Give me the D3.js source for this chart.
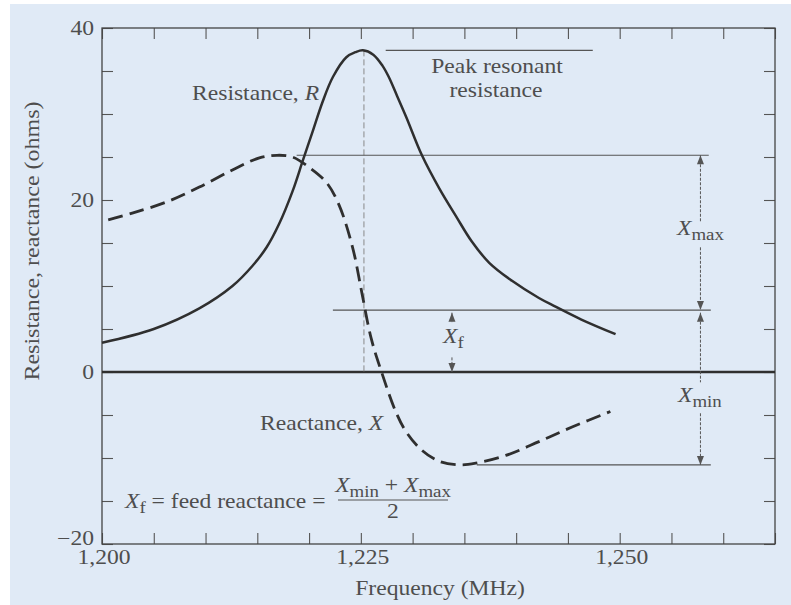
<!DOCTYPE html>
<html>
<head>
<meta charset="utf-8">
<script src="https://cdn.jsdelivr.net/npm/d3@7"></script>
<style>
  body { margin: 0; background: #fff; }
  text { font-family: "Liberation Serif", "Times New Roman", serif; fill: #4e4e4e; }
</style>
</head>
<body>
<div id="chart"></div>
<script>
var width = 791;
var height = 605;
const BG_COLOR = "#e0eaf6";
const INK = "#2f2f2f";
const THIN = "#555";
const SX = 1.18; // the scan is stretched sideways a little

// resistance R (solid curve)
var freqR = [1.2000, 1.2050, 1.2094, 1.2126, 1.2145, 1.2159, 1.2171, 1.2184, 1.2194,
             1.2203, 1.2213, 1.2223, 1.2236, 1.2245, 1.2252, 1.2262, 1.2271, 1.2277, 1.2285,
             1.2294, 1.2309, 1.2326, 1.2342, 1.2357, 1.2374, 1.2396, 1.2422, 1.2438, 1.2463, 1.2496];
var resistance = [3.4, 5.0, 7.4, 10.0, 12.3, 14.5, 17.2, 21.0, 24.6,
                  27.8, 31.4, 34.3, 36.6, 37.2, 37.4, 36.9, 35.6, 34.3, 32.1,
                  29.6, 25.2, 21.3, 18.1, 15.2, 12.7, 10.6, 8.6, 7.6, 6.1, 4.4];

// reactance X (dashed curve)
var freqX = [1.2006, 1.2030, 1.2063, 1.2094, 1.2126, 1.2152, 1.2169, 1.2184, 1.2200, 1.2217,
             1.2229, 1.2242, 1.2251, 1.2260, 1.2270, 1.2284, 1.2294, 1.2309, 1.2326, 1.2345,
             1.2361, 1.2390, 1.2422, 1.2454, 1.2491];
var reactance = [17.7, 18.5, 19.8, 21.5, 23.5, 24.9, 25.2, 25.0, 23.8, 22.0,
                 19.4, 14.5, 9.2, 3.9, 0.0, -4.7, -7.0, -9.1, -10.4, -10.8,
                 -10.6, -9.7, -8.1, -6.4, -4.6];

// axes
var xMinorTicks = d3.range(0, 14).map(function (i) { return 1.2 + i * 0.005; });
var xLabelTicks = [1.200, 1.225, 1.250];
var xLabelText = ["1,200", "1,225", "1,250"];
var yMinorTicks = d3.range(-20, 41, 5);
var yLabelTicks = [-20, 0, 20, 40];
var yLabelText = ["\u221220", "0", "20", "40"];

var svg = d3
  .select("#chart")
  .append("svg")
  .attr("width", width)
  .attr("height", height);

// scan background (white margin on left and top)
svg.append("rect").attr("x", 10).attr("y", 4)
  .attr("width", width - 10).attr("height", height - 4)
  .style("fill", BG_COLOR);

var x = d3.scaleLinear().domain([1.200, 1.265]).range([102, 775]);
var y = d3.scaleLinear().domain([-20, 40]).range([544, 28]);

// inward ticks on all four sides
function ticksOnly(axis, tx, ty) {
  var g = svg.append("g")
    .attr("transform", "translate(" + tx + "," + ty + ")")
    .call(axis.tickSize(-11).tickFormat(""));
  g.select(".domain").remove();
  g.selectAll("line").style("stroke", THIN).style("stroke-width", 1.1);
  return g;
}
ticksOnly(d3.axisBottom(x).tickValues(xMinorTicks), 0, y(-20));
ticksOnly(d3.axisTop(x).tickValues(xMinorTicks), 0, y(40));
ticksOnly(d3.axisLeft(y).tickValues(yMinorTicks), x(1.2), 0);
ticksOnly(d3.axisRight(y).tickValues(yMinorTicks), x(1.265), 0);

// frame
svg.append("rect")
  .attr("x", x(1.2)).attr("y", y(40))
  .attr("width", x(1.265) - x(1.2)).attr("height", y(-20) - y(40))
  .style("fill", "none").style("stroke", "#444").style("stroke-width", 1.3);

// text helper: parts = [[text, "n" | "i" | "s"]]
function label(px, py, parts, anchor, size) {
  size = size || 20;
  var t = svg.append("text")
    .attr("transform", "translate(" + px + "," + py + ") scale(" + SX + ",1)")
    .attr("text-anchor", anchor || "start")
    .style("font-size", size + "px");
  var low = false;
  parts.forEach(function (p) {
    var s = t.append("tspan").text(p[0]);
    if (p[1] === "i") s.style("font-style", "italic");
    if (p[1] === "s") {
      s.style("font-size", (size * 0.8) + "px");
      if (!low) s.attr("dy", 5);
      low = true;
    } else if (low) {
      s.attr("dy", -5);
      low = false;
    }
  });
  return t;
}

// tick labels
xLabelTicks.forEach(function (v, i) {
  label(x(v) + 2, 564, [[xLabelText[i], "n"]], "middle");
});
yLabelTicks.forEach(function (v, i) {
  label(x(1.2) - 8, y(v) + 7 - (v === -20 ? 6 : 0), [[yLabelText[i], "n"]], "end");
});

// axis titles
label(440, 595, [["Frequency (MHz)", "n"]], "middle");
svg.append("text")
  .attr("transform", "translate(39,241) rotate(-90) scale(1.2,1)")
  .attr("text-anchor", "middle")
  .style("font-size", "20px")
  .text("Resistance, reactance (ohms)");

// derived values
var peakR = d3.max(resistance);
var fPeak = freqR[d3.maxIndex(resistance)];
var xMax = d3.max(reactance);
var xMin = d3.min(reactance);
var xFeed = (xMin + xMax) / 2;

// zero line
svg.append("line")
  .attr("x1", x(1.2)).attr("x2", x(1.265))
  .attr("y1", y(0)).attr("y2", y(0))
  .style("stroke", INK).style("stroke-width", 2.6);

// dashed vertical at resonance
svg.append("line")
  .attr("x1", x(fPeak + 0.0001)).attr("x2", x(fPeak + 0.0001))
  .attr("y1", y(peakR)).attr("y2", y(0))
  .style("stroke", "#888").style("stroke-width", 1)
  .style("stroke-dasharray", "6,3");

// reference lines
function hline(f1, f2, v) {
  svg.append("line")
    .attr("x1", x(f1)).attr("x2", x(f2))
    .attr("y1", y(v)).attr("y2", y(v))
    .style("stroke", THIN).style("stroke-width", 1.1);
}
hline(1.2274, 1.2474, peakR);
hline(1.2188, 1.2586, xMax);
hline(1.2223, 1.2588, xFeed);
hline(1.2362, 1.2588, xMin);

// curves
var line = d3.line()
  .x(function (d) { return x(d[0]); })
  .y(function (d) { return y(d[1]); })
  .curve(d3.curveCatmullRom.alpha(0.5));

svg.append("path")
  .datum(d3.zip(freqR, resistance))
  .attr("d", line)
  .style("fill", "none").style("stroke", INK).style("stroke-width", 2.5);

svg.append("path")
  .datum(d3.zip(freqX, reactance))
  .attr("d", line)
  .style("fill", "none").style("stroke", INK).style("stroke-width", 2.8)
  .style("stroke-dasharray", "15,7");

// dimension arrows
function arrowhead(px, py, dir) {
  // dir: -1 points up, +1 points down
  svg.append("path")
    .attr("d", "M" + px + "," + py + "l-3.5," + (-dir * 9) + "l7,0z")
    .style("fill", THIN);
}
function vseg(px, v1, v2) {
  svg.append("line")
    .attr("x1", px).attr("x2", px)
    .attr("y1", y(v1)).attr("y2", y(v2))
    .style("stroke", THIN).style("stroke-width", 1)
    .style("stroke-dasharray", "3,1.5");
}
var xDim = x(1.2578);
vseg(xDim, xMax, 17.5);
vseg(xDim, 14.5, xFeed);
arrowhead(xDim, y(xMax), -1);
arrowhead(xDim, y(xFeed), 1);
vseg(xDim, xFeed - 0.3, -1.2);
vseg(xDim, -4.8, xMin);
arrowhead(xDim, y(xFeed - 0.3), -1);
arrowhead(xDim, y(xMin), 1);

var xF = x(1.2338);
vseg(xF, xFeed - 0.3, 5.8);
vseg(xF, 1.7, 0);
arrowhead(xF, y(xFeed - 0.3), -1);
arrowhead(xF, y(0), 1);

// annotation text
label(192, 100, [["Resistance, ", "n"], ["R", "i"]]);
label(497, 73, [["Peak resonant", "n"]], "middle");
label(496, 97, [["resistance", "n"]], "middle");
label(260, 430, [["Reactance, ", "n"], ["X", "i"]]);
label(443, 343, [["X", "i"], ["f", "s"]]);
label(677, 235, [["X", "i"], ["max", "s"]]);
label(678, 402, [["X", "i"], ["min", "s"]]);

// formula
label(125, 508, [["X", "i"], ["f", "s"], [" = feed reactance =", "n"]]);
label(393, 492, [["X", "i"], ["min", "s"], [" + ", "n"], ["X", "i"], ["max", "s"]], "middle");
svg.append("line")
  .attr("x1", 338).attr("x2", 448).attr("y1", 500).attr("y2", 500)
  .style("stroke", "#555").style("stroke-width", 1.1);
label(393, 518, [["2", "n"]], "middle");
</script>
</body>
</html>
